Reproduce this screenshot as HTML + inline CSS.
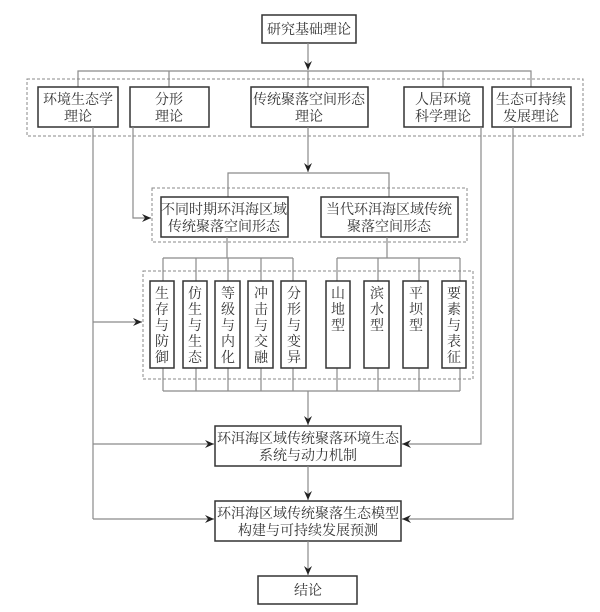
<!DOCTYPE html>
<html><head><meta charset="utf-8"><style>
html,body{margin:0;padding:0;background:#fff;}
svg{display:block;}
text{font-family:"Liberation Serif","Noto Serif CJK SC",serif;font-size:14px;fill:#333;text-anchor:middle;}
.b{fill:#fff;stroke:#333;stroke-width:1.5;}
.l{stroke:#8a8a8a;stroke-width:1.2;fill:none;}
.d{stroke:#888;stroke-width:1;fill:none;stroke-dasharray:3,2;}
</style></head><body>
<svg width="600" height="612" viewBox="0 0 600 612" xmlns="http://www.w3.org/2000/svg">
<defs><marker id="a" markerWidth="10" markerHeight="10" refX="9" refY="5" orient="auto" markerUnits="userSpaceOnUse"><path d="M0,1 L9,5 L0,9 L3,5 Z" fill="#222"/></marker></defs>

<!-- top -->
<rect class="b" x="262" y="15" width="94" height="28"/>
<text x="309" y="34">研究基础理论</text>
<line class="l" x1="308" y1="43" x2="308" y2="70" marker-end="url(#a)"/>
<polyline class="l" points="78,87 78,71 531,71 531,87"/>
<line class="l" x1="169" y1="71" x2="169" y2="87"/>
<line class="l" x1="308" y1="71" x2="308" y2="87"/>
<line class="l" x1="443" y1="71" x2="443" y2="87"/>
<rect class="d" x="27" y="79" width="556" height="57"/>

<rect class="b" x="38" y="87" width="80" height="40"/>
<text x="78" y="104">环境生态学</text><text x="78" y="121">理论</text>
<rect class="b" x="130" y="87" width="79" height="40"/>
<text x="169" y="104">分形</text><text x="169" y="121">理论</text>
<rect class="b" x="251" y="87" width="117" height="40"/>
<text x="309" y="104">传统聚落空间形态</text><text x="309" y="121">理论</text>
<rect class="b" x="404" y="87" width="79" height="40"/>
<text x="443" y="104">人居环境</text><text x="443" y="121">科学理论</text>
<rect class="b" x="492" y="87" width="79" height="40"/>
<text x="531" y="104">生态可持续</text><text x="531" y="121">发展理论</text>

<!-- second level -->
<line class="l" x1="308" y1="127" x2="308" y2="172" marker-end="url(#a)"/>
<polyline class="l" points="228,197 228,173 389,173 389,197"/>
<rect class="d" x="152" y="188" width="315" height="54"/>
<rect class="b" x="161" y="197" width="127" height="40"/>
<text x="224" y="214">不同时期环洱海区域</text><text x="224" y="231">传统聚落空间形态</text>
<rect class="b" x="321" y="197" width="137" height="40"/>
<text x="389" y="214">当代环洱海区域传统</text><text x="389" y="231">聚落空间形态</text>
<polyline class="l" points="133,127 133,218 151,218" marker-end="url(#a)"/>

<!-- third level -->
<line class="l" x1="227" y1="237" x2="227" y2="258"/>
<line class="l" x1="387" y1="237" x2="387" y2="258"/>
<line class="l" x1="163" y1="258" x2="293" y2="258"/>
<line class="l" x1="337" y1="258" x2="460" y2="258"/>
<g class="l">
<line x1="163" y1="258" x2="163" y2="281"/><line x1="196" y1="258" x2="196" y2="281"/><line x1="228" y1="258" x2="228" y2="281"/><line x1="261" y1="258" x2="261" y2="281"/><line x1="293" y1="258" x2="293" y2="281"/>
<line x1="337" y1="258" x2="337" y2="281"/><line x1="378" y1="258" x2="378" y2="281"/><line x1="419" y1="258" x2="419" y2="281"/><line x1="460" y1="258" x2="460" y2="281"/>
<line x1="163" y1="368" x2="163" y2="391"/><line x1="196" y1="368" x2="196" y2="391"/><line x1="228" y1="368" x2="228" y2="391"/><line x1="261" y1="368" x2="261" y2="391"/><line x1="293" y1="368" x2="293" y2="391"/>
<line x1="337" y1="368" x2="337" y2="391"/><line x1="378" y1="368" x2="378" y2="391"/><line x1="419" y1="368" x2="419" y2="391"/><line x1="460" y1="368" x2="460" y2="391"/>
<line x1="163" y1="391" x2="460" y2="391"/>
</g>
<rect class="d" x="143" y="271" width="330" height="108"/>
<g>
<rect class="b" x="150" y="281" width="24" height="87"/>
<rect class="b" x="183" y="281" width="24" height="87"/>
<rect class="b" x="215" y="281" width="25" height="87"/>
<rect class="b" x="248" y="281" width="25" height="87"/>
<rect class="b" x="281" y="281" width="25" height="87"/>
<rect class="b" x="326" y="281" width="24" height="87"/>
<rect class="b" x="364" y="281" width="25" height="87"/>
<rect class="b" x="403" y="281" width="25" height="87"/>
<rect class="b" x="442" y="281" width="24" height="87"/>
</g>
<g>
<text x="162" y="298">生</text><text x="162" y="314">存</text><text x="162" y="330">与</text><text x="162" y="346">防</text><text x="162" y="362">御</text>
<text x="195" y="298">仿</text><text x="195" y="314">生</text><text x="195" y="330">与</text><text x="195" y="346">生</text><text x="195" y="362">态</text>
<text x="228" y="298">等</text><text x="228" y="314">级</text><text x="228" y="330">与</text><text x="228" y="346">内</text><text x="228" y="362">化</text>
<text x="261" y="298">冲</text><text x="261" y="314">击</text><text x="261" y="330">与</text><text x="261" y="346">交</text><text x="261" y="362">融</text>
<text x="294" y="298">分</text><text x="294" y="314">形</text><text x="294" y="330">与</text><text x="294" y="346">变</text><text x="294" y="362">异</text>
<text x="338" y="298">山</text><text x="338" y="314">地</text><text x="338" y="330">型</text>
<text x="377" y="298">滨</text><text x="377" y="314">水</text><text x="377" y="330">型</text>
<text x="416" y="298">平</text><text x="416" y="314">坝</text><text x="416" y="330">型</text>
<text x="454" y="298">要</text><text x="454" y="314">素</text><text x="454" y="330">与</text><text x="454" y="346">表</text><text x="454" y="362">征</text>
</g>
<line class="l" x1="93" y1="127" x2="93" y2="519"/>
<line class="l" x1="93" y1="322" x2="142" y2="322" marker-end="url(#a)"/>

<!-- bottom -->
<line class="l" x1="308" y1="391" x2="308" y2="425" marker-end="url(#a)"/>
<rect class="b" x="215" y="426" width="186" height="40"/>
<text x="308" y="443">环洱海区域传统聚落环境生态</text><text x="308" y="460">系统与动力机制</text>
<line class="l" x1="93" y1="444" x2="214" y2="444" marker-end="url(#a)"/>
<polyline class="l" points="481,127 481,444 402,444" marker-end="url(#a)"/>
<line class="l" x1="308" y1="466" x2="308" y2="500" marker-end="url(#a)"/>
<rect class="b" x="215" y="501" width="186" height="40"/>
<text x="308" y="518">环洱海区域传统聚落生态模型</text><text x="308" y="535">构建与可持续发展预测</text>
<polyline class="l" points="93,519 214,519" marker-end="url(#a)"/>
<polyline class="l" points="513,127 513,519 402,519" marker-end="url(#a)"/>
<line class="l" x1="308" y1="541" x2="308" y2="575" marker-end="url(#a)"/>
<rect class="b" x="258" y="576" width="99" height="28"/>
<text x="308" y="595">结论</text>
</svg>
</body></html>
